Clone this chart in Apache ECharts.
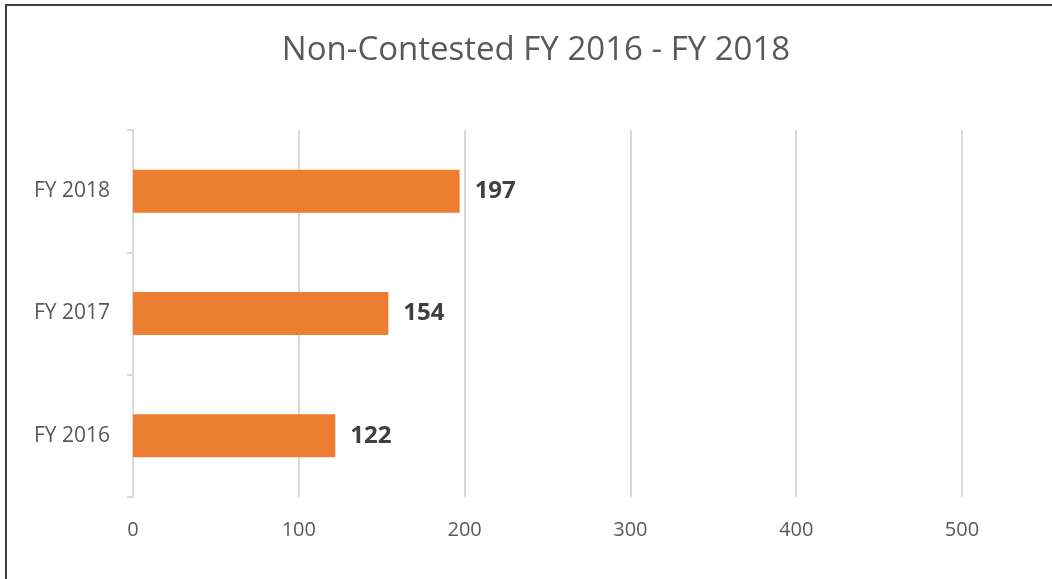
<!DOCTYPE html>
<html>
<head>
<meta charset="utf-8">
<script src="https://cdn.jsdelivr.net/npm/echarts@6/dist/echarts.min.js"></script>
<style>
  html, body { margin: 0; padding: 0; background: #fff; }
  #wrap { position: relative; width: 1052px; height: 579px; overflow: hidden; }
  #chart { width: 1052px; height: 579px; }
  #frame {
    position: absolute; left: 5px; top: 4px; width: 1100px; height: 700px;
    border: 2px solid #404040; pointer-events: none;
  }
</style>
</head>
<body>
<div id="wrap">
  <div id="chart"></div>
  <div id="frame"></div>
</div>
<script>
const categories = ['FY 2016', 'FY 2017', 'FY 2018'];
const values = [122, 154, 197];
const xTicks = [0, 100, 200, 300, 400, 500];

const chart = echarts.init(document.getElementById('chart'));
const option = {
  animation: false,
  title: {
    text: 'Non-Contested FY 2016 - FY 2018',
    left: 531,
    top: 29,
    textAlign: 'center',
    textStyle: {
      fontFamily: 'Open Sans',
      fontSize: 33,
      fontWeight: 'normal',
      color: '#595959',
    },
  },
  grid: {
    left: 133,
    right: 90,
    top: 130,
    bottom: 82,
  },
  xAxis: {
    type: 'value',
    min: xTicks[0],
    max: xTicks[xTicks.length - 1],
    interval: 100,
    axisLine: { show: false },
    axisTick: { show: false },
    splitLine: { show: true, lineStyle: { color: '#d9d9d9', width: 2 } },
    axisLabel: {
      margin: 23,
      fontFamily: 'Open Sans',
      fontSize: 20,
      color: '#595959',
    },
  },
  yAxis: {
    type: 'category',
    data: categories,
    axisLine: { show: true, lineStyle: { color: '#d9d9d9', width: 2 } },
    axisTick: { show: true, length: 6, lineStyle: { color: '#d9d9d9', width: 2 } },
    axisLabel: {
      margin: 23,
      fontFamily: 'Open Sans',
      fontSize: 21,
      color: '#595959',
    },
  },
  series: [
    {
      type: 'bar',
      data: values,
      barWidth: 43,
      itemStyle: { color: '#ED7D31' },
      label: {
        show: true,
        position: 'right',
        distance: 15,
        fontFamily: 'Open Sans',
        fontSize: 24,
        fontWeight: 'bold',
        color: '#404040',
      },
    },
  ],
};
chart.setOption(option);
</script>
</body>
</html>
